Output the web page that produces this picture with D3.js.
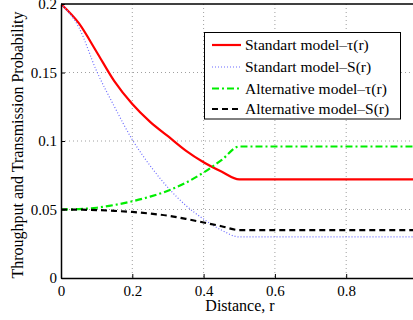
<!DOCTYPE html>
<html>
<head>
<meta charset="utf-8">
<title>Throughput</title>
<style>
  body { margin: 0; background: #fff; }
  svg text { font-family: "Liberation Serif", "Times New Roman", serif; fill: #000; }
</style>
</head>
<body>
<script src="https://cdn.jsdelivr.net/npm/d3@7"></script>
<script>
// distance values and the four curves
var distance = [0, 0.05, 0.1, 0.15, 0.2, 0.25, 0.3, 0.35, 0.4, 0.45, 0.5,
                0.55, 0.6, 0.65, 0.7, 0.75, 0.8, 0.85, 0.9, 0.95, 1];
var stdTau = [0.2, 0.186, 0.165, 0.1435, 0.127, 0.114, 0.1035, 0.093, 0.0845, 0.0777, 0.072,
              0.072, 0.072, 0.072, 0.072, 0.072, 0.072, 0.072, 0.072, 0.072, 0.072];
var stdS   = [0.2, 0.183, 0.151, 0.125, 0.101, 0.082, 0.066, 0.053, 0.043, 0.035, 0.03,
              0.03, 0.03, 0.03, 0.03, 0.03, 0.03, 0.03, 0.03, 0.03, 0.03];
var altTau = [0.05, 0.0503, 0.0513, 0.0533, 0.056, 0.0594, 0.0637, 0.0695, 0.077, 0.086, 0.096,
              0.096, 0.096, 0.096, 0.096, 0.096, 0.096, 0.096, 0.096, 0.096, 0.096];
var altS   = [0.05, 0.0499, 0.0496, 0.049, 0.0482, 0.047, 0.0455, 0.0432, 0.0405, 0.0378, 0.035,
              0.035, 0.035, 0.035, 0.035, 0.035, 0.035, 0.035, 0.035, 0.035, 0.035];
var seriesNames = ["Standart model\u2013\u03c4(r)", "Standart model\u2013S(r)",
                   "Alternative model\u2013\u03c4(r)", "Alternative model\u2013S(r)"];
var xTicks = [0, 0.2, 0.4, 0.6, 0.8];
var yTicks = [0, 0.05, 0.1, 0.15, 0.2];

var W = 413, H = 320;
var pLeft = 61, pTop = 4, pBottom = 278, pRight = 417.5;

var svg = d3.select("body").append("svg")
    .attr("width", W).attr("height", H);

var x = d3.scaleLinear().domain([0, 1]).range([pLeft, pRight]);
var y = d3.scaleLinear().domain([0, 0.2]).range([pBottom, pTop]);

// grid
svg.append("g").selectAll("line").data(xTicks.slice(1)).enter().append("line")
    .attr("x1", d => x(d)).attr("x2", d => x(d))
    .attr("y1", pTop).attr("y2", pBottom)
    .attr("stroke", "#888").attr("stroke-width", 0.8).attr("stroke-dasharray", "1,3");
svg.append("g").selectAll("line").data(yTicks.slice(1, -1)).enter().append("line")
    .attr("x1", pLeft).attr("x2", pRight)
    .attr("y1", d => y(d)).attr("y2", d => y(d))
    .attr("stroke", "#888").attr("stroke-width", 0.8).attr("stroke-dasharray", "1,3");

// curves
var styles = [
  {color: "#ff0000", width: 2.2, dash: null},
  {color: "#6b6bff", width: 1.2, dash: "1,2"},
  {color: "#00ee00", width: 2.2, dash: "7,3,2,3"},
  {color: "#000000", width: 2.2, dash: "6,4"}
];
var seriesData = [stdTau, stdS, altTau, altS];
var line = d3.line().x((d, i) => x(distance[i])).y(d => y(d)).curve(d3.curveMonotoneX);

svg.append("defs").append("clipPath").attr("id", "clip")
  .append("rect").attr("x", pLeft).attr("y", pTop - 2).attr("width", pRight - pLeft).attr("height", pBottom - pTop + 4);

var plot = svg.append("g").attr("clip-path", "url(#clip)");
seriesData.forEach(function(s, k) {
  plot.append("path")
      .datum(s)
      .attr("d", line)
      .attr("fill", "none")
      .attr("stroke", styles[k].color)
      .attr("stroke-width", styles[k].width)
      .attr("stroke-dasharray", styles[k].dash);
});

// axes box
var xAxis = svg.append("g")
    .attr("transform", "translate(0," + pBottom + ")")
    .call(d3.axisBottom(x).tickValues(xTicks).tickSizeInner(-4).tickSizeOuter(0).tickPadding(7)
          .tickFormat(d3.format("~g")));
var yAxis = svg.append("g")
    .attr("transform", "translate(" + pLeft + ",0)")
    .call(d3.axisLeft(y).tickValues(yTicks).tickSizeInner(-4).tickSizeOuter(0).tickPadding(4)
          .tickFormat(d3.format("~g")));
[xAxis, yAxis].forEach(function(a) {
  a.select(".domain").attr("stroke", "#000").attr("stroke-width", 1.5);
  a.selectAll(".tick line").attr("stroke", "#000");
  a.selectAll(".tick text").attr("font-size", 15).attr("font-family", "Liberation Serif");
});
xAxis.selectAll(".tick text").attr("dy", "0.75em");
svg.append("line").attr("x1", pLeft).attr("x2", pRight).attr("y1", pTop).attr("y2", pTop)
    .attr("stroke", "#000").attr("stroke-width", 1.5);

// axis labels
svg.append("text")
    .attr("x", 240).attr("y", 311)
    .attr("text-anchor", "middle").attr("font-size", 16)
    .text("Distance, r");
svg.append("text")
    .attr("transform", "translate(23," + ((pTop + pBottom) / 2 + 4) + ") rotate(-90)")
    .attr("text-anchor", "middle").attr("font-size", 16)
    .text("Throughput and Transmission Probability");

// legend
var lg = svg.append("g");
lg.append("rect")
    .attr("x", 204.5).attr("y", 32.5).attr("width", 196).attr("height", 86.5)
    .attr("fill", "#fff").attr("stroke", "#000").attr("stroke-width", 1);
var rowY = [45, 67, 88.5, 109];
seriesNames.forEach(function(name, k) {
  lg.append("line")
      .attr("x1", 212).attr("x2", 241).attr("y1", rowY[k]).attr("y2", rowY[k])
      .attr("stroke", styles[k].color)
      .attr("stroke-width", styles[k].width)
      .attr("stroke-dasharray", styles[k].dash);
  lg.append("text")
      .attr("x", 245).attr("y", rowY[k] + 5)
      .attr("font-size", 15.5)
      .text(name);
});
</script>
</body>
</html>
